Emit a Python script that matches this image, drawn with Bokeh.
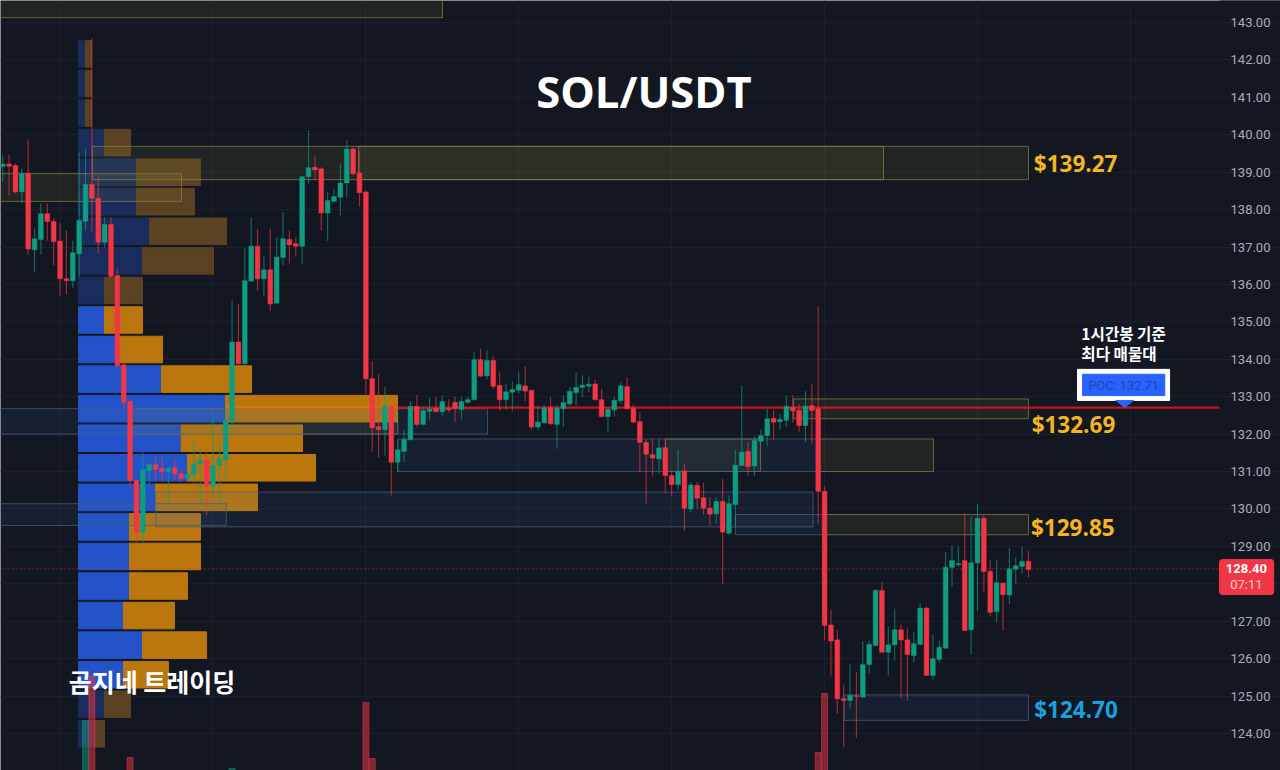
import numpy as np

from bokeh.core.properties import value
from bokeh.embed import file_html
from bokeh.models import ColumnDataSource, FixedTicker, PrintfTickFormatter, Range1d
from bokeh.plotting import figure
from bokeh.resources import INLINE

# hourly SOL/USDT candles
opens = [139.15, 139.22, 139.18, 138.48, 138.97, 136.93, 137.20, 137.89, 137.68, 137.16, 136.15, 136.10, 136.82, 137.69, 138.67, 138.30,
         137.13, 137.60, 136.24, 133.85, 132.88, 130.76, 129.38, 131.03, 131.18, 131.08, 131.00, 131.10, 130.94, 130.81, 130.92, 131.21,
         131.31, 130.60, 131.16, 131.31, 132.36, 134.46, 133.88, 136.09, 137.02, 136.15, 136.39, 135.50, 136.72, 137.20, 137.09, 137.02,
         138.88, 139.13, 139.09, 137.91, 138.22, 138.33, 138.71, 139.62, 138.98, 138.47, 133.48, 132.20, 132.12, 132.75, 131.25, 131.54,
         131.85, 132.74, 132.26, 132.61, 132.69, 132.60, 132.69, 132.85, 132.66, 132.85, 132.92, 133.99, 133.56, 133.97, 133.30, 132.92,
         133.12, 133.17, 133.29, 133.17, 132.19, 132.30, 132.71, 132.26, 132.68, 132.81, 133.11, 133.25, 133.28, 133.34, 132.92, 132.47,
         132.65, 132.89, 133.27, 132.69, 132.33, 131.78, 131.45, 131.34, 131.64, 130.89, 130.65, 131.02, 130.00, 130.63, 130.30, 130.02,
         129.87, 130.20, 129.35, 130.12, 131.16, 131.54, 131.15, 131.81, 131.96, 132.42, 132.33, 132.37, 132.72, 132.64, 132.23, 132.76,
         132.68, 130.47, 126.90, 126.50, 124.93, 124.88, 125.01, 124.97, 125.84, 126.35, 127.82, 126.17, 126.37, 126.77, 126.50, 126.08,
         126.38, 127.35, 125.55, 125.98, 126.28, 128.44, 128.51, 128.62, 126.77, 128.56, 129.75, 128.33, 127.26, 128.02, 127.70, 128.39,
         128.46, 128.60]
highs = [139.45, 139.47, 139.23, 139.10, 139.87, 137.49, 138.16, 138.16, 137.76, 137.64, 137.44, 137.17, 139.53, 139.63, 142.57, 138.87,
         137.80, 137.80, 136.43, 133.91, 132.90, 130.79, 131.52, 131.25, 131.40, 131.40, 131.12, 131.37, 131.03, 130.97, 131.83, 131.62,
         131.56, 132.59, 131.78, 132.72, 135.57, 135.48, 136.96, 137.79, 137.49, 136.75, 137.49, 137.26, 137.93, 137.44, 137.26, 138.90,
         140.11, 139.45, 139.13, 138.47, 138.56, 139.23, 139.85, 139.69, 139.56, 138.51, 133.95, 133.61, 133.27, 132.77, 131.83, 132.10,
         132.88, 133.05, 132.72, 132.97, 133.00, 133.03, 132.93, 133.00, 132.99, 132.99, 134.19, 134.28, 134.25, 134.07, 133.67, 133.34,
         133.41, 133.65, 133.81, 133.17, 132.77, 132.77, 132.99, 132.77, 133.03, 133.25, 133.65, 133.57, 133.54, 133.45, 133.21, 132.72,
         133.00, 133.39, 133.52, 132.78, 132.59, 131.85, 131.88, 131.88, 131.88, 131.03, 131.58, 131.22, 130.72, 130.72, 130.70, 130.31,
         130.31, 130.80, 130.36, 131.58, 133.30, 131.78, 131.96, 132.12, 132.68, 132.63, 132.54, 133.03, 133.03, 132.79, 133.15, 133.33,
         135.41, 130.60, 127.30, 126.77, 125.31, 125.84, 125.64, 126.47, 126.48, 127.85, 128.04, 126.86, 127.33, 126.91, 126.80, 126.71,
         127.48, 127.39, 126.64, 126.48, 128.84, 129.02, 129.00, 129.89, 129.80, 130.14, 129.82, 128.62, 128.62, 128.03, 128.95, 128.71,
         129.00, 128.89]
lows = [138.73, 138.38, 138.43, 138.16, 136.80, 136.33, 136.80, 137.17, 136.51, 135.69, 135.73, 135.91, 136.19, 137.44, 137.41, 136.82,
        136.99, 136.16, 133.78, 132.69, 130.52, 129.11, 129.08, 130.58, 130.72, 130.72, 130.15, 130.76, 130.72, 130.76, 130.68, 130.15,
        129.83, 130.36, 130.15, 130.76, 132.02, 133.83, 133.86, 136.08, 135.84, 135.68, 135.30, 135.49, 136.51, 136.56, 136.75, 136.53,
        138.70, 138.78, 137.44, 137.17, 138.20, 137.84, 138.33, 138.91, 138.08, 133.09, 131.52, 131.38, 131.43, 130.36, 130.98, 131.25,
        131.83, 132.20, 132.23, 132.36, 132.59, 132.50, 132.58, 132.32, 132.39, 132.81, 132.90, 133.52, 133.45, 133.21, 132.63, 132.65,
        132.61, 133.10, 132.88, 132.12, 132.10, 132.28, 132.23, 131.61, 132.19, 132.75, 132.77, 132.99, 133.12, 132.90, 132.45, 132.05,
        132.47, 132.81, 132.68, 132.30, 130.98, 130.14, 130.87, 130.94, 130.42, 130.33, 130.51, 129.41, 129.91, 130.00, 129.85, 129.56,
        129.60, 127.98, 129.32, 129.51, 131.16, 130.89, 130.88, 131.75, 131.69, 131.83, 132.12, 132.19, 132.32, 132.05, 131.78, 131.74,
        129.61, 126.49, 125.55, 124.53, 123.63, 124.66, 123.88, 124.96, 125.61, 126.33, 126.15, 125.55, 125.95, 124.95, 124.88, 125.90,
        126.37, 125.54, 125.43, 125.90, 126.27, 127.93, 128.46, 126.74, 126.11, 127.27, 127.77, 127.13, 126.97, 126.75, 127.45, 128.00,
        128.27, 128.16]
closes = [139.22, 139.16, 138.47, 138.97, 136.95, 137.22, 137.89, 137.68, 137.15, 136.15, 136.10, 136.85, 137.71, 138.67, 138.30, 137.13,
          137.60, 136.22, 133.83, 132.85, 130.76, 129.38, 131.05, 131.19, 131.05, 130.99, 131.09, 130.94, 130.81, 130.92, 131.21, 131.31,
          130.60, 131.16, 131.34, 132.36, 134.46, 133.88, 136.10, 137.02, 136.15, 136.39, 135.48, 136.73, 137.22, 137.06, 137.02, 138.88,
          139.12, 139.06, 137.91, 138.24, 138.35, 138.71, 139.62, 138.96, 138.45, 133.48, 132.17, 132.12, 132.75, 131.25, 131.58, 131.86,
          132.74, 132.26, 132.63, 132.67, 132.60, 132.87, 132.65, 132.68, 132.87, 132.92, 133.99, 133.55, 133.97, 133.28, 132.92, 133.13,
          133.19, 133.32, 133.15, 132.19, 132.32, 132.70, 132.28, 132.69, 132.84, 133.14, 133.25, 133.31, 133.33, 132.92, 132.47, 132.66,
          132.90, 133.29, 132.68, 132.32, 131.78, 131.46, 131.36, 131.63, 130.89, 130.65, 131.01, 130.02, 130.64, 130.29, 130.02, 129.86,
          130.20, 129.38, 130.14, 131.17, 131.52, 131.13, 131.83, 131.96, 132.41, 132.32, 132.39, 132.74, 132.62, 132.23, 132.75, 132.63,
          130.47, 126.89, 126.47, 124.93, 124.88, 125.02, 124.99, 125.84, 126.38, 127.82, 126.17, 126.37, 126.77, 126.50, 126.11, 126.40,
          127.35, 125.55, 126.00, 126.30, 128.44, 128.62, 128.54, 126.75, 128.56, 129.75, 128.33, 127.24, 128.03, 127.71, 128.40, 128.48,
          128.60, 128.38]

# only the volume bars that reach into the picture
volume_idx = [13, 14, 20, 36, 57, 58, 128, 129]
volumes = [50, 94, 13, 2, 68, 12, 18, 77]

# volume profile, per price row
profile_price = [142.16, 141.37, 140.58, 139.79, 139.00, 138.21, 137.42, 136.63, 135.84, 135.05, 134.26, 133.47,
                 132.68, 131.89, 131.10, 130.31, 129.52, 128.73, 127.94, 127.15, 126.36, 125.57, 124.78, 123.99]
profile_buy = [1.1, 1.1, 1.1, 4.08, 9.1, 9.1, 11.14, 10.05, 4.08, 4.08, 6.44, 13.03,
               23.07, 16.12, 17.11, 12.09, 8.0, 8.0, 8.0, 7.06, 10.05, 7.06, 4.08, 2.5]
profile_sell = [0.94, 0.94, 0.94, 4.08, 10.05, 9.1, 12.09, 11.14, 5.96, 5.96, 6.75, 14.13,
                27.0, 19.04, 20.09, 16.01, 11.14, 11.14, 9.1, 8.0, 10.05, 7.06, 4.08, 1.57]
profile_in_value = [False] * 9 + [True] * 13 + [False] * 2

# supply / demand zones: left, right, top, bottom
yellow_left = [-2, 14.08, 55.85, -2, 124.13, 104.03, 128.05, 129.0, 20.0]
yellow_right = [69.03, 138.25, 161.0, 28.06, 161.0, 118.95, 146.1, 161.0, 62.0]
yellow_top = [143.9, 139.69, 139.69, 138.96, 132.94, 131.87, 131.87, 129.85, 132.68]
yellow_bottom = [143.13, 138.80, 138.80, 138.22, 132.41, 131.0, 131.0, 129.31, 132.0]
blue_left = [-2, 62.0, 24.0, -2, 115.0, 132.1]
blue_right = [76.1, 128.05, 127.2, 35.1, 129.0, 161.0]
blue_top = [132.68, 131.87, 130.45, 130.14, 129.85, 125.03]
blue_bottom = [132.0, 131.0, 129.52, 129.56, 129.31, 124.35]

poc_price = 132.71
last_price = 128.40
yellow_labels = ["$139.27", "$132.69", "$129.85"]
yellow_label_x = [161.85, 161.5, 161.4]
yellow_label_y = [139.23, 132.26, 129.5]
y_ticks = list(range(123, 144))
hour_lines = [9, 33, 57, 81, 105, 129, 153, 177]

BG = "#131722"
UP = "#0f9d82"
DOWN = "#f23645"
axis_at = 190.99

p = figure(frame_width=1280, frame_height=770, x_range=Range1d(-0.345, 200.56), y_range=Range1d(123.01, 143.588),
           x_axis_location=None, y_axis_location="right", toolbar_location=None, output_backend="svg",
           background_fill_color=BG, border_fill_color=BG, outline_line_color=None,
           min_border_left=0, min_border_top=0, min_border_bottom=0, min_border_right=0)

p.xgrid.ticker = FixedTicker(ticks=hour_lines)
p.xgrid.grid_line_color = "#1c202b"
p.ygrid.ticker = FixedTicker(ticks=y_ticks)
p.ygrid.grid_line_color = "#1c202b"

# axis drawn inside the frame so that the price tag can sit on top of it
p.yaxis.fixed_location = axis_at
p.yaxis.ticker = FixedTicker(ticks=y_ticks)
p.yaxis.formatter = PrintfTickFormatter(format="%.2f")
p.yaxis.axis_line_color = None
p.yaxis.major_tick_line_color = None
p.yaxis.minor_tick_line_color = None
p.yaxis.major_tick_in = 0
p.yaxis.major_tick_out = 0
p.yaxis.major_label_standoff = 11
p.yaxis.major_label_text_color = "#a9acb5"
p.yaxis.major_label_text_font = "Roboto"
p.yaxis.major_label_text_font_size = "13px"

# grid stops at the price scale
p.quad(left=axis_at, right=201, top=144, bottom=122, fill_color=BG, line_color=None, level="underlay")

p.extra_y_ranges = {"vol": Range1d(0, 770)}

# volume profile
row_height = 0.71
profile_left = 11.9
buy = np.array(profile_buy)
sell = np.array(profile_sell)
in_value = np.array(profile_in_value)
profile = ColumnDataSource(data=dict(
    y=profile_price,
    buy_end=profile_left + buy,
    end=profile_left + buy + sell,
    buy_color=np.where(in_value, "#2452c8", "#1a2c5c"),
    sell_color=np.where(in_value, "#bb770d", "#5a4222"),
))
p.hbar(y="y", left=profile_left, right="buy_end", height=row_height, color="buy_color", source=profile)
p.hbar(y="y", left="buy_end", right="end", height=row_height, color="sell_color", source=profile)

# zones
p.quad(left=yellow_left, right=yellow_right, top=yellow_top, bottom=yellow_bottom,
       fill_color="#85803a", fill_alpha=0.12, line_color="#8a8545", line_alpha=0.7, line_width=1)
p.quad(left=blue_left, right=blue_right, top=blue_top, bottom=blue_bottom,
       fill_color="#3f6aa8", fill_alpha=0.11, line_color="#4a5f80", line_alpha=0.75, line_width=1)

# POC and last price
p.segment(x0=[35.0, 62.0], x1=[62.0, axis_at], y0=poc_price, y1=poc_price,
          line_color=["#e0760c", "#c9141c"], line_width=2.2)
p.segment(x0=[-1], x1=[axis_at], y0=last_price, y1=last_price, line_color=DOWN, line_alpha=0.45,
          line_width=1, line_dash="2 2")

# candles
idx = np.arange(len(opens))
o = np.array(opens)
c = np.array(closes)
up = c >= o
colors = np.where(up, UP, DOWN)
candles = ColumnDataSource(data=dict(idx=idx, high=highs, low=lows, top=np.maximum(o, c), bottom=np.minimum(o, c), color=colors))
p.segment(x0="idx", x1="idx", y0="high", y1="low", line_color="color", line_alpha=0.6, line_width=1.2, source=candles)
p.vbar(x="idx", width=0.74, top="top", bottom="bottom", fill_color="color", line_color="color", line_width=0.5, source=candles)

# volume
vol_colors = [UP if closes[i] >= opens[i] else DOWN for i in volume_idx]
p.vbar(x=volume_idx, width=0.94, top=volumes, bottom=0, color=vol_colors, alpha=0.5, y_range_name="vol")

# POC tag
p.quad(left=168.7, right=183.15, top=133.73, bottom=132.90, color="#ffffff")
p.quad(left=169.5, right=182.4, top=133.60, bottom=133.03, color="#2962ff")
p.patch(x=[174.7, 177.5, 176.1], y=[132.90, 132.90, 132.71], color="#2962ff")
p.text(x=[175.95], y=[133.30], text=["POC: %.2f" % poc_price], text_color="#1f49ad", text_font=value("Roboto"),
       text_font_size="12.7px", text_align="center", text_baseline="middle")
p.text(x=[169.3, 169.3], y=[134.69, 134.18], text=["1시간봉 기준", "최다 매물대"], text_color="#ffffff",
       text_font=value("Noto Sans CJK KR"), text_font_style="bold", text_font_size="15.6px", text_baseline="middle")

# big labels
p.text(x=yellow_label_x, y=yellow_label_y, text=yellow_labels, text_color="#f5b51e", text_font=value("Open Sans"),
       text_font_style="bold", text_font_size="22.5px", text_baseline="middle")
p.text(x=[161.9], y=[124.64], text=["$124.70"], text_color="#1c9fdc", text_font=value("Open Sans"),
       text_font_style="bold", text_font_size="22.5px", text_baseline="middle")
p.text(x=[100.65], y=[141.16], text=["SOL/USDT"], text_color="#ffffff", text_font=value("Open Sans"),
       text_font_style="bold", text_font_size="43.5px", text_align="center", text_baseline="middle")
p.text(x=[23.43], y=[125.39], text=["곰지네 트레이딩"], text_color="#ffffff", text_font=value("Noto Sans CJK KR"),
       text_font_style="bold", text_font_size="25px", text_align="center", text_baseline="middle")

# last price tag on the axis
p.quad(left=axis_at, right=199.5, top=128.65, bottom=127.71, color=DOWN, border_radius=3, level="annotation")
p.text(x=[195.2], y=[128.41], text=["%.2f" % last_price], text_color="#ffffff", text_font=value("Roboto"),
       text_font_size="13px", text_font_style="bold", text_align="center", text_baseline="middle", level="annotation")
p.text(x=[195.2], y=[127.97], text=["07:11"], text_color="#fbd0d4", text_font=value("Roboto"),
       text_font_size="13px", text_align="center", text_baseline="middle", level="annotation")

open("out.html", "w").write(file_html(p, INLINE))
